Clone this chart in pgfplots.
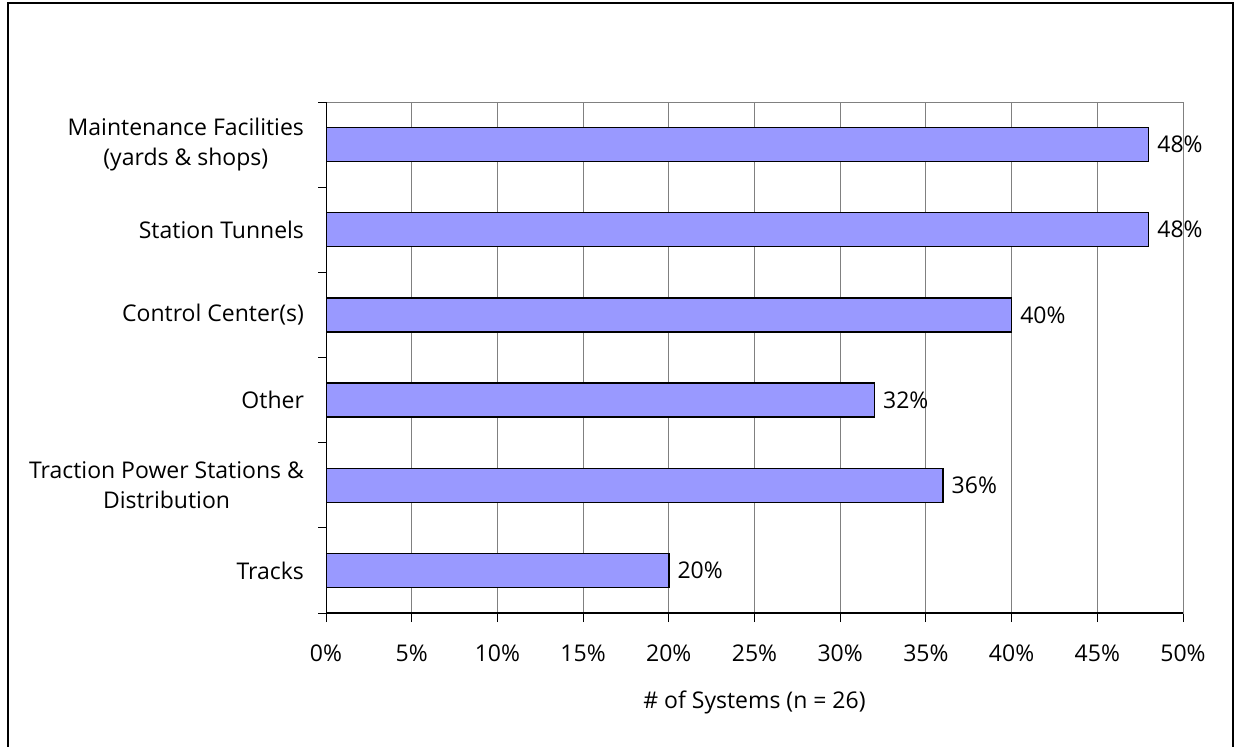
\documentclass[border=0pt]{standalone}
\usepackage{fontspec}
\setmainfont{Open Sans}
\usepackage{pgfplots}
\pgfplotsset{compat=1.18}
\definecolor{barfill}{HTML}{9999FF}
\newcommand{\cf}{\fontsize{11.5}{15}\selectfont}
\begin{document}
\begin{tikzpicture}[x=1pt,y=1pt]
\useasboundingbox (0,0) rectangle (617.5,-373);
\draw[line width=0.75pt] (4,-1.5) rectangle (616.5,-390);
\begin{axis}[
  at={(163pt,-306.5pt)}, anchor=south west,
  scale only axis, width=428.5pt, height=255.5pt,
  /pgf/number format/assume math mode=true,
  xbar, bar width=17pt,
  xmin=0, xmax=50, ymin=-0.5, ymax=5.5,
  xtick={0,5,...,50},
  xticklabel={\pgfmathprintnumber{\tick}\%},
  ytick={0,1,2,3,4,5},
  yticklabels={{Tracks},{Traction Power Stations \&\\Distribution},{Other},{Control Center(s)},{Station Tunnels},{Maintenance Facilities\\(yards \& shops)}},
  minor ytick={-0.5,0.5,...,5.5},
  tick align=outside,
  xtick pos=bottom, ytick pos=left,
  major tick length=4.5pt, minor tick length=4pt,
  major y tick style={draw=none},
  minor y tick style={black, line width=0.5pt},
  major x tick style={black, line width=0.5pt},
  xmajorgrids,
  major x grid style={gray, line width=0.5pt},
  axis line style={gray, line width=0.5pt},
  ticklabel style={font=\cf, text=black},
  yticklabel style={align=center, xshift=-3pt},
  xticklabel style={yshift=-8pt},
  xlabel={\# of Systems (n = 26)},
  xlabel style={font=\cf, at={(axis description cs:0.5,0)}, anchor=center, yshift=-44.5pt},
  nodes near coords={\pgfmathprintnumber{\pgfplotspointmeta}\%},
  point meta=x,
  nodes near coords style={font=\cf, anchor=west, inner sep=0pt, xshift=4pt, text=black},
]
\addplot[fill=barfill, draw=black, line width=0.7pt] coordinates {
  (20,0) (36,1) (32,2) (40,3) (48,4) (48,5)
};
\draw[black, line width=0.7pt] (rel axis cs:0,1) -- (rel axis cs:0,0) -- (rel axis cs:1,0);
\end{axis}
\end{tikzpicture}
\end{document}
